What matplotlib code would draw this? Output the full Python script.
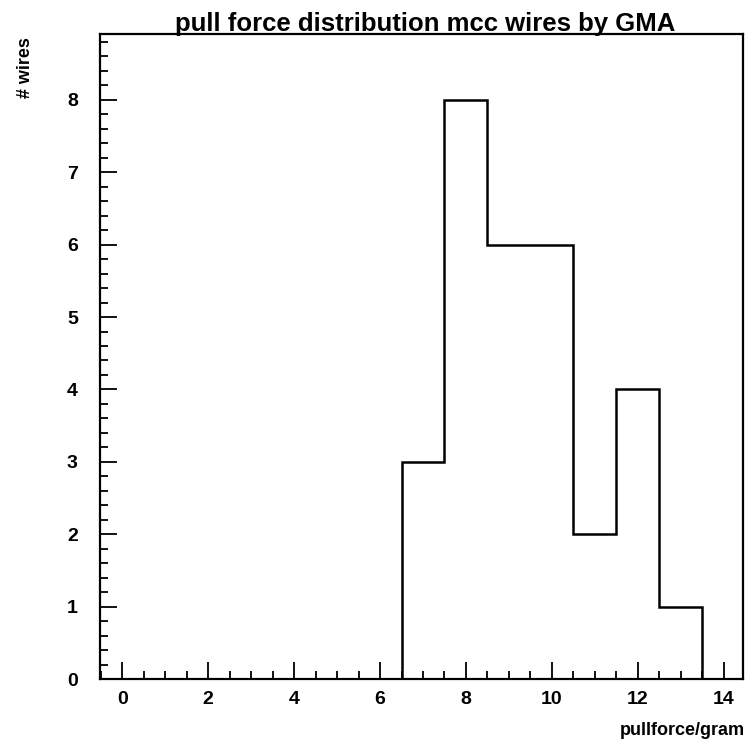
import matplotlib
matplotlib.use("Agg")
import matplotlib.pyplot as plt
from matplotlib.ticker import MultipleLocator

plt.rcParams['font.family'] = ['Liberation Sans', 'DejaVu Sans']
plt.rcParams['font.weight'] = 'bold'

bin_edges = [6.5, 7.5, 8.5, 9.5, 10.5, 11.5, 12.5, 13.5]
counts = [3, 8, 6, 6, 2, 4, 1]
title = "pull force distribution mcc wires by GMA"
xlabel = "pullforce/gram"
ylabel = "# wires"

fig = plt.figure(figsize=(7.45, 7.42), dpi=100)
ax = fig.add_axes([100/745, 63/742, 643/745, 645/742])

ax.stairs(counts, bin_edges, color='black', linewidth=1.8)

ax.set_xlim(-0.52, 14.45)
ax.set_ylim(0, 8.91)
ax.xaxis.set_major_locator(MultipleLocator(2))
ax.xaxis.set_minor_locator(MultipleLocator(0.5))
ax.yaxis.set_major_locator(MultipleLocator(1))
ax.yaxis.set_minor_locator(MultipleLocator(0.2))
ax.tick_params(which='both', direction='in', width=1.3, color='black', labelsize=14)
ax.tick_params(which='major', length=12)
ax.tick_params(which='minor', length=6)
ax.tick_params(axis='x', pad=9)
ax.tick_params(axis='y', pad=16)
for lbl in ax.get_xticklabels() + ax.get_yticklabels():
    lbl.set_fontweight('bold')
for s in ax.spines.values():
    s.set_linewidth(1.6)

fig.text(425/745, 1 - 31/742, title, ha='center', va='baseline', fontsize=18.5, fontweight='bold')
fig.text(745/745, 1 - 735/742, xlabel, ha='right', va='baseline', fontsize=13, fontweight='bold')
fig.text(25/745, 1 - 37/742, ylabel, ha='center', va='top', rotation=90, fontsize=13, fontweight='bold')

fig.savefig("out.png", dpi=100)
